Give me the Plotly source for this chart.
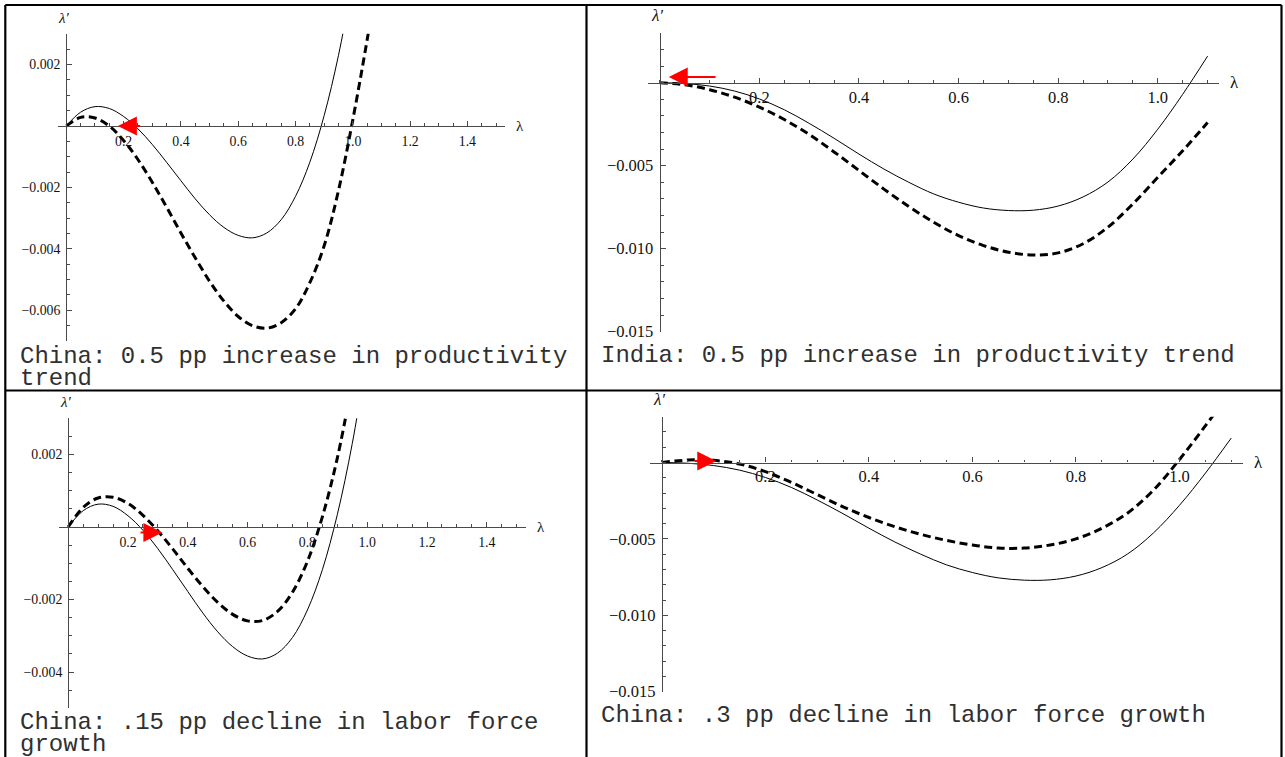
import plotly.graph_objects as go

W, H = 1285, 757

# ---------------- data ----------------
lam = [0.00, 0.05, 0.10, 0.15, 0.20, 0.25, 0.30, 0.35, 0.40, 0.45, 0.50, 0.55,
       0.60, 0.65, 0.70, 0.75, 0.80, 0.85, 0.90, 0.95, 1.00, 1.05, 1.10]

# China baseline (solid) - top-left and bottom-left panels
china_base = [0, 0.00045, 0.00063, 0.00057, 0.00031, -0.00009, -0.0006, -0.00118,
              -0.00178, -0.00237, -0.00289, -0.0033, -0.00356, -0.00364, -0.00348,
              -0.00305, -0.00229, -0.00118, 0.00034, 0.0023, 0.00476]
# China, 0.5 pp increase in productivity trend (dashed)
china_prod = [0, 0.00028, 0.00026, 0.0, -0.00047, -0.00109, -0.00183, -0.00264,
              -0.00348, -0.00429, -0.00505, -0.0057, -0.0062, -0.0065, -0.00658,
              -0.0064, -0.00595, -0.0051, -0.0039, -0.0021, 0.0002, 0.0028, 0.0056]
# China, .15 pp decline in labor force growth (dashed)
china_lab15 = [0, 0.00054, 0.0008, 0.00082, 0.00065, 0.00032, -0.00011, -0.00061,
               -0.00114, -0.00164, -0.00208, -0.00241, -0.00259, -0.00258, -0.00233,
               -0.0018, -0.00095, 0.00028, 0.0019, 0.004]
# Baseline (solid) - top-right and bottom-right panels
base_r = [0, -0.00005, -0.0002, -0.0005, -0.00098, -0.00163, -0.00245, -0.00335,
          -0.0043, -0.0052, -0.006, -0.0067, -0.0072, -0.00755, -0.0077, -0.00768,
          -0.00743, -0.00688, -0.00598, -0.0046, -0.0028, -0.0007, 0.0016]
# India, 0.5 pp increase in productivity trend (dashed)
india_prod = [0, -0.00012, -0.00042, -0.00087, -0.00147, -0.00222, -0.00312, -0.00417,
              -0.00529, -0.00641, -0.00746, -0.00841, -0.00921, -0.00981, -0.01021,
              -0.01038, -0.01025, -0.0097, -0.0087, -0.0073, -0.0057, -0.0041, -0.0024]
# China, .3 pp decline in labor force growth (dashed)
china_lab30 = [0, 0.00016, 0.00014, -0.0001, -0.0006, -0.0013, -0.0021, -0.0029,
               -0.0036, -0.0042, -0.0047, -0.0051, -0.0054, -0.0056, -0.0056, -0.0054,
               -0.005, -0.0043, -0.0033, -0.0018, 0.0002, 0.0024, 0.0047]

# red arrows: (tail lambda, tip lambda, lambda')
arrow_tl = [0.263, 0.18, 0.0]
arrow_tr = [0.115, 0.018, 0.00035]
arrow_bl = [0.237, 0.315, -0.00015]
arrow_br = [0.06, 0.105, 0.0001]

xticks_wide = [0.2, 0.4, 0.6, 0.8, 1.0, 1.2, 1.4]
xticks_narrow = [0.2, 0.4, 0.6, 0.8, 1.0]
yticks_tl = [0.002, -0.002, -0.004, -0.006]
yticks_bl = [0.002, -0.002, -0.004]
yticks_r = [-0.005, -0.010, -0.015]

captions_tl = ["China: 0.5 pp increase in productivity", "trend"]
captions_tr = ["India: 0.5 pp increase in productivity trend"]
captions_bl = ["China: .15 pp decline in labor force", "growth"]
captions_br = ["China: .3 pp decline in labor force growth"]


def fmt_x(v):
    return f"{v:.1f}"


def fmt_y(v, nd):
    s = f"{abs(v):.{nd}f}"
    return ("\u2212" + s) if v < 0 else s


# ---------------- panel geometry (pixels) ----------------
panels = [
    dict(ox=66.3, oy=126.0, sx=286.5, sy=30725, xr=[-0.03, 1.53], yr=[-0.007, 0.003],
         xt=xticks_wide, yt=yticks_tl, nd=3, xminor=0.05, yminor=0.0005,
         fs=13.8, lfs=15, xso=2, yso=3,
         solid=china_base, dashed=china_prod, arrow=arrow_tl,
         cap=captions_tl, capx=18, capy=367),
    dict(ox=659.8, oy=82.7, sx=498.0, sy=16600, xr=[-0.024, 1.122], yr=[-0.015, 0.003],
         xt=xticks_narrow, yt=yticks_r, nd=3, xminor=0.05, yminor=0.001,
         fs=16.5, lfs=17, xso=-1, yso=3,
         solid=base_r, dashed=india_prod, arrow=arrow_tr,
         cap=captions_tr, capx=599, capy=355),
    dict(ox=68.2, oy=527.0, sx=299.0, sy=36250, xr=[-0.03, 1.53], yr=[-0.005, 0.003],
         xt=xticks_wide, yt=yticks_bl, nd=3, xminor=0.05, yminor=0.0005,
         fs=13.8, lfs=15, xso=2, yso=3,
         solid=china_base, dashed=china_lab15, arrow=arrow_bl,
         cap=captions_bl, capx=18, capy=733.5),
    dict(ox=661.9, oy=462.5, sx=517.6, sy=15280, xr=[-0.023, 1.123], yr=[-0.015, 0.003],
         xt=xticks_narrow, yt=yticks_r, nd=3, xminor=0.05, yminor=0.001,
         fs=16.5, lfs=17, xso=-1, yso=3,
         solid=base_r, dashed=china_lab30, arrow=arrow_br,
         cap=captions_br, capx=599, capy=715),
]

AX_COL = "#4a4a4a"
SERIF = "Liberation Serif, Times New Roman, serif"
# outer size 17 sets the line pitch (1.3 x 17 = 22 px); glyphs drawn at 24 px
CAP_FONT = dict(family="Liberation Mono, Courier New, monospace", size=17, color="#303030")
CAP_SPAN = '<span style="font-size:24px">{}</span>'

fig = go.Figure()
annotations = []
layout_axes = {}

for i, p in enumerate(panels):
    n = "" if i == 0 else str(i + 1)
    xa, ya = "x" + n, "y" + n
    xdom = [(p["ox"] + p["xr"][0] * p["sx"]) / W, (p["ox"] + p["xr"][1] * p["sx"]) / W]
    ydom = [1 - (p["oy"] - p["yr"][0] * p["sy"]) / H, 1 - (p["oy"] - p["yr"][1] * p["sy"]) / H]
    tick_font = dict(family=SERIF, size=p["fs"], color="#111111")
    lab_font = dict(family=SERIF, size=p["lfs"], color="#111111")

    fig.add_trace(go.Scatter(x=lam[:len(p["solid"])], y=p["solid"], mode="lines",
                             line=dict(color="black", width=1, shape="spline", smoothing=1.0),
                             xaxis=xa, yaxis=ya, showlegend=False, hoverinfo="skip"))
    fig.add_trace(go.Scatter(x=lam[:len(p["dashed"])], y=p["dashed"], mode="lines",
                             line=dict(color="black", width=3, dash="8px,4.5px",
                                       shape="spline", smoothing=1.0),
                             xaxis=xa, yaxis=ya, showlegend=False, hoverinfo="skip"))

    layout_axes["xaxis" + n] = dict(
        domain=xdom, range=p["xr"], anchor="free", position=1 - p["oy"] / H,
        showline=True, linecolor=AX_COL, linewidth=1.3,
        ticks="inside", ticklen=5, tickwidth=1, tickcolor=AX_COL,
        tickmode="array", tickvals=p["xt"], ticktext=[fmt_x(v) for v in p["xt"]],
        tickfont=tick_font, ticklabelstandoff=p["xso"],
        minor=dict(ticks="inside", ticklen=2.7, tickwidth=1, tickcolor=AX_COL,
                   tickmode="linear", tick0=0, dtick=p["xminor"], showgrid=False),
        showgrid=False, zeroline=False, automargin=False, fixedrange=True)
    layout_axes["yaxis" + n] = dict(
        domain=ydom, range=p["yr"], anchor="free", position=p["ox"] / W,
        showline=True, linecolor=AX_COL, linewidth=1.3,
        ticks="inside", ticklen=5, tickwidth=1, tickcolor=AX_COL,
        tickmode="array", tickvals=p["yt"], ticktext=[fmt_y(v, p["nd"]) for v in p["yt"]],
        tickfont=tick_font, ticklabelstandoff=p["yso"],
        minor=dict(ticks="inside", ticklen=2.7, tickwidth=1, tickcolor=AX_COL,
                   tickmode="linear", tick0=0, dtick=p["yminor"], showgrid=False),
        showgrid=False, zeroline=False, automargin=False, fixedrange=True)

    # axis labels
    annotations.append(dict(text="<i>\u03bb\u2032</i>", xref=xa, x=0, yref=ya + " domain", y=1,
                            xanchor="center", yanchor="bottom", xshift=-3, yshift=6,
                            showarrow=False, font=lab_font))
    annotations.append(dict(text="\u03bb", xref=xa + " domain", x=1, yref=ya, y=0,
                            xanchor="left", yanchor="middle", xshift=9, yshift=0,
                            showarrow=False, font=lab_font))
    # red arrow
    a = p["arrow"]
    annotations.append(dict(text="", x=a[1], y=a[2], ax=a[0], ay=a[2],
                            xref=xa, yref=ya, axref=xa, ayref=ya,
                            showarrow=True, arrowhead=2, arrowsize=1.9, arrowwidth=2,
                            arrowcolor="#ff0000", standoff=0))
    # caption (one text block; wrapped lines as in the reference)
    cap_text = "<br>".join(CAP_SPAN.format(t) for t in p["cap"])
    annotations.append(dict(text=cap_text, xref="paper", yref="paper", x=p["capx"] / W,
                            y=1 - p["capy"] / H, xanchor="left", yanchor="middle",
                            align="left", showarrow=False, font=CAP_FONT))

# table borders
shapes = []
BORDER = dict(color="black", width=2.2)
for (x0, y0, x1, y1) in [(5.3, 5, 1281.5, 5), (5.3, 390.5, 1281.5, 390.5),
                         (5.3, 5, 5.3, 757), (586.5, 5, 586.5, 757),
                         (1281.5, 5, 1281.5, 757)]:
    shapes.append(dict(type="line", xref="paper", yref="paper",
                       x0=x0 / W, x1=x1 / W, y0=1 - y0 / H, y1=1 - y1 / H, line=BORDER))

fig.update_layout(
    width=W, height=H, margin=dict(l=0, r=0, t=0, b=0),
    paper_bgcolor="white", plot_bgcolor="rgba(0,0,0,0)",
    showlegend=False, annotations=annotations, shapes=shapes,
    **layout_axes,
)

fig.write_html("out.html", config={"displayModeBar": False},
               post_script="document.body.style.margin='0';document.body.style.overflow='hidden';")
